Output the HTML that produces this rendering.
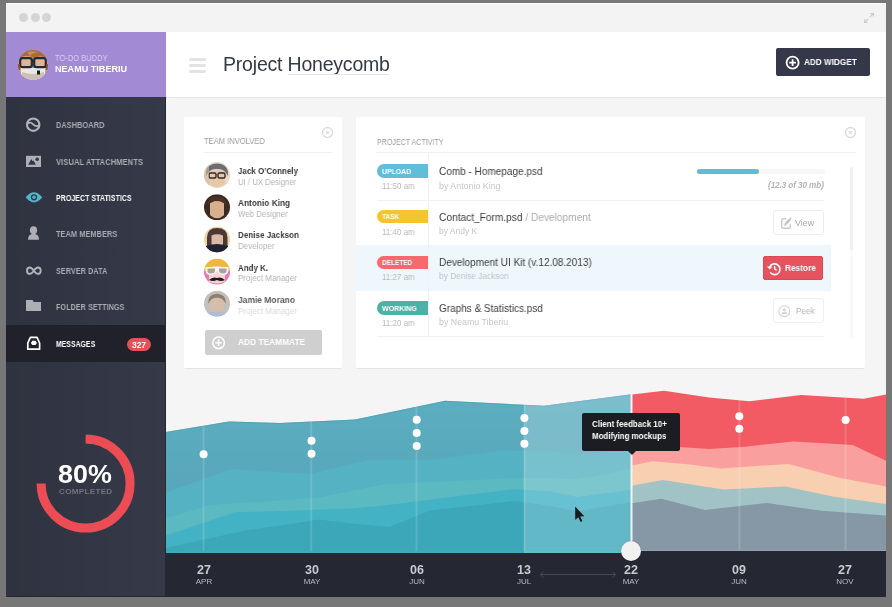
<!DOCTYPE html>
<html><head><meta charset="utf-8">
<style>
*{margin:0;padding:0;box-sizing:border-box}
html,body{width:892px;height:607px;overflow:hidden;background:#777777;font-family:"Liberation Sans",sans-serif}
.a{position:absolute}
.t{position:absolute;white-space:nowrap;line-height:1;will-change:transform}
#win{position:absolute;left:6px;top:3px;width:880px;height:594px;background:#f5f5f5;overflow:hidden}
</style></head><body>
<div id="win"></div>
<!-- titlebar -->
<div class="a" style="left:6px;top:3px;width:880px;height:29px;background:#f3f3f3;border-top:1px solid #fdfdfd"></div>
<div class="a" style="left:19px;top:13px;width:9px;height:9px;border-radius:50%;background:#d5d5d5"></div>
<div class="a" style="left:31px;top:13px;width:9px;height:9px;border-radius:50%;background:#d5d5d5"></div>
<div class="a" style="left:42px;top:13px;width:9px;height:9px;border-radius:50%;background:#d5d5d5"></div>
<svg class="a" style="left:860px;top:9px" width="18" height="18" viewBox="860 9 18 18" fill="none" stroke="#cbcbcb" stroke-width="1.2">
<path d="M864.8,22.2 L868.2,18.8 M869.8,17.2 L873.2,13.8"/><path d="M864.6,19.4 V22.4 H867.6 M870.4,13.6 H873.4 V16.6"/></svg>

<!-- sidebar -->
<div class="a" style="left:6px;top:32px;width:160px;height:65px;background:#a38ad4"></div>
<div class="a" style="left:6px;top:97px;width:160px;height:500px;background:linear-gradient(90deg,#2f323f,#363948)"></div>
<div class="a" style="left:6px;top:325px;width:160px;height:37px;background:#20212b"></div>
<div class="a" style="left:165px;top:97px;width:1px;height:500px;background:#262833"></div>


<!-- sidebar content -->
<svg class="a" style="left:18px;top:50px" width="30" height="30" viewBox="0 0 30 30">
<defs><clipPath id="av0"><circle cx="15" cy="15" r="15"/></clipPath></defs>
<g clip-path="url(#av0)">
<rect width="30" height="30" fill="#d89a70"/>
<path d="M0,0 H30 V9 Q24,4 16,8 Q8,3 0,9Z" fill="#a86a3e"/>
<path d="M9,2 Q15,0 21,3 Q15,2 12,6Z" fill="#c98d5c"/>
<path d="M3,18 H27 L27,30 H3Z" fill="#ece8e0"/>
<path d="M4,22 Q15,26 26,22 L26,30 H4Z" fill="#c9c2b8"/>
<rect x="2.2" y="8.2" width="11.6" height="9" rx="2.2" fill="#e3b393" stroke="#1c2e3c" stroke-width="2.2"/>
<rect x="16.2" y="8.2" width="11.6" height="9" rx="2.2" fill="#e3b393" stroke="#1c2e3c" stroke-width="2.2"/>
<path d="M13.5,11 H16.5" stroke="#1c2e3c" stroke-width="2.2"/>
<rect x="19" y="20.5" width="3" height="4" fill="#1a1a1a"/>
<path d="M0,14 H2 V20 H0Z M28,14 H30 V20 H28Z" fill="#8a4e2a"/>
</g></svg>
<div class="t" style="left:55.30px;top:54.15px;font-size:8.8px;color:#d9cdf1;transform:scaleX(0.856);transform-origin:0 0">TO-DO BUDDY</div>
<div class="t" style="left:55.30px;top:65.45px;font-size:8.8px;font-weight:bold;color:#ffffff;transform:scaleX(1.031);transform-origin:0 0">NEAMU TIBERIU</div>

<svg class="a" style="left:0;top:0" width="166" height="362" viewBox="0 0 166 362">
<g fill="none" stroke="#b2b3b9" stroke-width="2.1">
<circle cx="33.2" cy="124.7" r="6.2"/>
<path d="M27,123.9 C29.3,122 31.3,122.3 33.2,124.4 C35.1,126.5 37.1,126.8 39.4,125" stroke-width="1.8"/>
</g>
<rect x="26" y="155.8" width="15" height="11.2" fill="#aeafb5"/>
<path d="M28.2,164.7 L31.2,159 L32.6,161.2 L33.6,160.6 L35.8,164.7Z" fill="#333644"/>
<circle cx="37.2" cy="159.3" r="1.8" fill="#333644"/>
<path d="M25.6,197.3 Q34,187 42.3,197.3 Q34,207.6 25.6,197.3Z" fill="#4db8cb"/>
<circle cx="34" cy="197.3" r="3.1" fill="#333644"/>
<circle cx="34" cy="197.3" r="1.8" fill="#4db8cb"/>
<ellipse cx="33.5" cy="230.3" rx="3.6" ry="4.1" fill="#aeafb5"/>
<path d="M28,239.8 Q28,234.6 31.8,233.9 H35.2 Q39,234.6 39,239.8Z" fill="#aeafb5"/>
<path fill="none" stroke="#b2b3b9" stroke-width="1.9" d="M33.85,270.7 C32,268.1 30.8,267.5 29.9,267.5 C28,267.5 27,268.9 27,270.7 C27,272.5 28,273.9 29.9,273.9 C30.8,273.9 32,273.3 33.85,270.7 C35.7,268.1 36.9,267.5 37.8,267.5 C39.7,267.5 40.7,268.9 40.7,270.7 C40.7,272.5 39.7,273.9 37.8,273.9 C36.9,273.9 35.7,273.3 33.85,270.7Z"/>
<path d="M26,300 H32.5 L33.8,302 H41 V311 H26Z" fill="#aeafb5"/>
<path d="M30.4,337.4 H37 L39.6,343 V349.2 H27.8 V343Z" fill="none" stroke="#ffffff" stroke-width="1.7" stroke-linejoin="round"/>
<path d="M30.9,342.9 L32.2,340.7 H35.6 L36.9,342.9 L35.6,345.1 H32.2Z" fill="#ffffff"/>
</svg>
<div class="t" style="left:56px;top:120.6px;font-size:8.6px;font-weight:bold;color:#a9aab2;letter-spacing:0.1px;transform:scaleX(0.853);transform-origin:0 0">DASHBOARD</div>
<div class="t" style="left:56px;top:157.8px;font-size:8.6px;font-weight:bold;color:#a9aab2;letter-spacing:0.1px;transform:scaleX(0.876);transform-origin:0 0">VISUAL ATTACHMENTS</div>
<div class="t" style="left:56px;top:194.3px;font-size:8.6px;font-weight:bold;color:#ffffff;letter-spacing:0.1px;transform:scaleX(0.809);transform-origin:0 0">PROJECT STATISTICS</div>
<div class="t" style="left:56px;top:229.7px;font-size:8.6px;font-weight:bold;color:#a9aab2;letter-spacing:0.1px;transform:scaleX(0.853);transform-origin:0 0">TEAM MEMBERS</div>
<div class="t" style="left:56px;top:267.0px;font-size:8.6px;font-weight:bold;color:#a9aab2;letter-spacing:0.1px;transform:scaleX(0.838);transform-origin:0 0">SERVER DATA</div>
<div class="t" style="left:56px;top:303.4px;font-size:8.6px;font-weight:bold;color:#a9aab2;letter-spacing:0.1px;transform:scaleX(0.833);transform-origin:0 0">FOLDER SETTINGS</div>
<div class="t" style="left:56px;top:339.9px;font-size:8.6px;font-weight:bold;color:#ffffff;letter-spacing:0.1px;transform:scaleX(0.792);transform-origin:0 0">MESSAGES</div>
<div class="a" style="left:127px;top:338px;width:24px;height:13px;border-radius:7px;background:#e5505a"></div>
<div class="t" style="left:127px;top:340.5px;width:24px;text-align:center;font-size:8.5px;font-weight:bold;color:#fff">327</div>

<svg class="a" style="left:30px;top:428px" width="112" height="112" viewBox="30 428 112 112">
<path d="M85.6,439 A44.5,44.5 0 1 1 41.1,483.5" fill="none" stroke="#ec4d55" stroke-width="9"/>
</svg>
<div class="t" style="left:58.20px;top:461.63px;font-size:25.8px;font-weight:bold;color:#ffffff;transform:scaleX(1.042);transform-origin:0 0">80%</div>
<div class="t" style="left:58.50px;top:487.74px;font-size:8.1px;font-weight:bold;color:#717484;letter-spacing:0.3px;">COMPLETED</div>

<div class="a" style="left:6px;top:596px;width:160px;height:1px;background:#262833"></div>
<!-- header -->
<div class="a" style="left:166px;top:32px;width:720px;height:66px;background:#ffffff;border-bottom:1px solid #e6e6e6"></div>
<div class="a" style="left:189px;top:57.5px;width:17px;height:3px;border-radius:2px;background:#e3e3e3"></div>
<div class="a" style="left:189px;top:63.5px;width:17px;height:3px;border-radius:2px;background:#e3e3e3"></div>
<div class="a" style="left:189px;top:69.5px;width:17px;height:3px;border-radius:2px;background:#e3e3e3"></div>
<div class="t" style="left:223px;top:54.5px;font-size:19.5px;color:#343a45;letter-spacing:-0.2px">Project Honeycomb</div>
<div class="a" style="left:288px;top:73.5px;width:101px;height:1px;background:#e4e4e4"></div>
<div class="a" style="left:776px;top:48px;width:94px;height:28px;border-radius:2px;background:#353848"></div>
<svg class="a" style="left:785px;top:55px" width="16" height="16" viewBox="0 0 16 16"><circle cx="7.6" cy="7.7" r="6" fill="none" stroke="#fff" stroke-width="1.8"/><path d="M7.6,4.3 V11.1 M4.2,7.7 H11" stroke="#fff" stroke-width="1.8"/></svg>
<div class="t" style="left:804.40px;top:57.96px;font-size:8.7px;font-weight:bold;color:#fff;transform:scaleX(0.942);transform-origin:0 0">ADD WIDGET</div>

<!-- cards -->
<div class="a" style="left:184px;top:117px;width:158px;height:252px;background:#fff;border-bottom:1px solid #e4e4e4;border-radius:2px"></div>
<div class="a" style="left:356px;top:117px;width:509px;height:252px;background:#fff;border-bottom:1px solid #e4e4e4;border-radius:2px"></div>



<!-- team card content -->
<div class="t" style="left:204.10px;top:137.43px;font-size:9.0px;color:#9b9b9b;transform:scaleX(0.842);transform-origin:0 0">TEAM INVOLVED</div>
<div class="a" style="left:204px;top:152px;width:128px;height:1px;background:#efefef"></div>
<svg class="a" style="left:321px;top:126px" width="13" height="13" viewBox="0 0 13 13" fill="none" stroke="#dcdcdc" stroke-width="1.3"><circle cx="6.5" cy="6.5" r="5"/><path d="M4.9,4.9 L8.1,8.1 M8.1,4.9 L4.9,8.1" stroke-width="1.1"/></svg>
<svg class="a" style="left:204px;top:162px" width="26" height="160" viewBox="0 0 26 160">
<defs><clipPath id="c1"><circle cx="13" cy="13" r="13"/></clipPath></defs>
<g clip-path="url(#c1)">
<rect width="26" height="26" fill="#e9d9c4"/>
<path d="M2,14 Q1,2 13,1.5 Q25,2 24,14 Q20,6 13,7 Q6,6 2,14Z" fill="#6b6f73"/>
<path d="M5,10 Q13,6 21,10 L21,22 Q13,28 5,22Z" fill="#e8c6a8"/>
<rect x="5" y="11" width="7" height="5" rx="1.5" fill="none" stroke="#2b2b2b" stroke-width="1.4"/>
<rect x="14" y="11" width="7" height="5" rx="1.5" fill="none" stroke="#2b2b2b" stroke-width="1.4"/>
<rect x="0" y="0" width="5" height="26" fill="#c9b89c" opacity="0.6"/>
</g>
<g transform="translate(0,32.2)" clip-path="url(#c1)">
<rect width="26" height="26" fill="#3a2a22"/>
<path d="M6,9 Q13,4 20,9 L20,21 Q13,27 6,21Z" fill="#d9b08f"/>
<path d="M3,12 Q4,2 13,2 Q22,2 23,12 Q18,5 13,7 Q8,5 3,12Z" fill="#4a3324"/>
</g>
<g transform="translate(0,64.4)" clip-path="url(#c1)">
<rect width="26" height="26" fill="#ead6a8"/>
<path d="M3,26 V11 Q3,1.5 13,1.5 Q23.5,1.5 23.5,11 V26Z" fill="#4e3834"/>
<path d="M7.5,9 Q13,6.5 19,9 L19,18 Q13,23 7.5,18Z" fill="#dcb8a6"/>
<path d="M0,20 Q13,15 26,20 V26 H0Z" fill="#1f2233"/>
</g>
<g transform="translate(0,96.6)" clip-path="url(#c1)">
<rect width="26" height="26" fill="#f2b63a"/>
<rect x="0" y="12" width="26" height="14" fill="#e779b8"/>
<path d="M5,9 Q13,6 21,9 L21,23 Q13,27 5,23Z" fill="#f6d2d6"/>
<path d="M1.5,8.5 H24.5 V12 Q24,16.5 19.5,16.5 Q15,16.5 14,13 H12 Q11,16.5 6.5,16.5 Q2,16.5 1.5,12Z" fill="#f4f4f4"/>
<path d="M3.5,10 H11 V12.5 Q10.5,15 7,15 Q3.8,15 3.5,12.5Z M15,10 H22.5 V12.5 Q22.2,15 19,15 Q15.5,15 15,12.5Z" fill="#a9a39a"/>
<path d="M5,21.5 Q9,17.5 13,19.5 Q17,17.5 21,21.5 Q17,23.5 13,21.5 Q9,23.5 5,21.5Z" fill="#1e1a1a"/>
</g>
<g transform="translate(0,128.8)" clip-path="url(#c1)" opacity="0.85">
<rect width="26" height="26" fill="#b9b6b0"/>
<path d="M6,9 Q13,4 20,9 L20,20 Q13,26 6,20Z" fill="#cfb39b"/>
<path d="M4,13 Q4,3 13,3 Q22,3 22,13 Q18,6 13,7 Q8,6 4,13Z" fill="#7a6a5a"/>
<rect x="0" y="21" width="26" height="5" fill="#9fb3c8"/>
</g>
</svg>
<div class="t" style="left:238.20px;top:166.05px;font-size:9.6px;font-weight:bold;color:#3a3b40;transform:scaleX(0.833);transform-origin:0 0">Jack O&#8217;Connely</div>
<div class="t" style="left:238.20px;top:177.85px;font-size:8.8px;color:#b3b3b3;transform:scaleX(0.880);transform-origin:0 0">UI / UX Designer</div>
<div class="t" style="left:238.20px;top:198.25px;font-size:9.6px;font-weight:bold;color:#3a3b40;transform:scaleX(0.866);transform-origin:0 0">Antonio King</div>
<div class="t" style="left:238.20px;top:210.05px;font-size:8.8px;color:#b3b3b3;transform:scaleX(0.896);transform-origin:0 0">Web Designer</div>
<div class="t" style="left:238.20px;top:230.45px;font-size:9.6px;font-weight:bold;color:#3a3b40;transform:scaleX(0.840);transform-origin:0 0">Denise Jackson</div>
<div class="t" style="left:238.20px;top:242.25px;font-size:8.8px;color:#b3b3b3;transform:scaleX(0.907);transform-origin:0 0">Developer</div>
<div class="t" style="left:238.20px;top:262.65px;font-size:9.6px;font-weight:bold;color:#3a3b40;transform:scaleX(0.827);transform-origin:0 0">Andy K.</div>
<div class="t" style="left:238.20px;top:274.45px;font-size:8.8px;color:#b3b3b3;transform:scaleX(0.914);transform-origin:0 0">Project Manager</div>
<div class="t" style="left:238.20px;top:294.85px;font-size:9.6px;font-weight:bold;color:#5a5b60;transform:scaleX(0.883);transform-origin:0 0">Jamie Morano</div>
<div class="t" style="left:238.20px;top:306.65px;font-size:8.8px;color:#dadada;transform:scaleX(0.914);transform-origin:0 0">Project Manager</div>
<div class="a" style="left:205px;top:330px;width:117px;height:25px;border-radius:2px;background:#cfcfcf"></div>
<svg class="a" style="left:211px;top:335px" width="15" height="15" viewBox="0 0 15 15"><circle cx="7.6" cy="7.8" r="5.8" fill="none" stroke="#fff" stroke-width="1.6"/><path d="M7.6,4.6 V11 M4.4,7.8 H10.8" stroke="#fff" stroke-width="1.6"/></svg>
<div class="t" style="left:238.00px;top:338.45px;font-size:8.8px;font-weight:bold;color:#ffffff;transform:scaleX(0.950);transform-origin:0 0">ADD TEAMMATE</div>


<!-- activity card content -->
<div class="t" style="left:376.60px;top:138.26px;font-size:8.7px;color:#9b9b9b;transform:scaleX(0.817);transform-origin:0 0">PROJECT ACTIVITY</div>
<div class="a" style="left:376px;top:152px;width:480px;height:1px;background:#efefef"></div>
<svg class="a" style="left:843.5px;top:126px" width="13" height="13" viewBox="0 0 13 13" fill="none" stroke="#dcdcdc" stroke-width="1.3"><circle cx="6.5" cy="6.5" r="5"/><path d="M4.9,4.9 L8.1,8.1 M8.1,4.9 L4.9,8.1" stroke-width="1.1"/></svg>
<div class="a" style="left:356px;top:245px;width:475px;height:46px;background:#eef8fc"></div>
<div class="a" style="left:377px;top:200px;width:447px;height:1px;background:#f1f1f1"></div>
<div class="a" style="left:377px;top:336px;width:447px;height:1px;background:#f1f1f1"></div>
<div class="a" style="left:428px;top:153px;width:1px;height:183px;background:#f1f1f1"></div>
<div class="a" style="left:850px;top:167px;width:3px;height:172px;border-radius:2px;background:#f9f9f9"></div>
<div class="a" style="left:850px;top:167px;width:3px;height:83px;border-radius:2px;background:#efefef"></div>

<div class="a" style="left:376.5px;top:164.3px;width:51.5px;height:14px;border-radius:7px 0 0 7px;background:#62bed8"></div>
<div class="t" style="left:381.80px;top:168.06px;font-size:7.2px;font-weight:bold;color:#fff;transform:scaleX(0.957);transform-origin:0 0">UPLOAD</div>
<div class="t" style="left:382.10px;top:181.90px;font-size:8.4px;color:#b8b8b8;transform:scaleX(0.951);transform-origin:0 0">11:50 am</div>
<div class="t" style="left:438.60px;top:167.16px;font-size:10.3px;color:#3b3c44;transform:scaleX(0.973);transform-origin:0 0">Comb - Homepage.psd</div>
<div class="t" style="left:438.70px;top:181.90px;font-size:8.4px;color:#c6c6c6;transform:scaleX(1.057);transform-origin:0 0">by Antonio King</div>
<div class="a" style="left:697px;top:169.2px;width:128px;height:5px;border-radius:3px;background:#f6f6f6"></div>
<div class="a" style="left:697px;top:169.2px;width:62px;height:5px;border-radius:3px;background:#5dbcd6"></div>
<div class="t" style="left:768px;top:181.5px;font-size:8.2px;font-style:italic;font-weight:bold;color:#b4b4b4;letter-spacing:-0.1px">(12.3 of 30 mb)</div>

<div class="a" style="left:376.5px;top:209.9px;width:51.5px;height:13.6px;border-radius:7px 0 0 7px;background:#f5c531"></div>
<div class="t" style="left:381.80px;top:213.36px;font-size:7.2px;font-weight:bold;color:#fff;transform:scaleX(0.902);transform-origin:0 0">TASK</div>
<div class="t" style="left:382.10px;top:227.80px;font-size:8.4px;color:#b8b8b8;transform:scaleX(0.951);transform-origin:0 0">11:40 am</div>
<div class="t" style="left:438.70px;top:212.66px;font-size:10.3px;color:#3b3c44;transform:scaleX(0.986);transform-origin:0 0">Contact_Form.psd <span style="color:#a9a9a9">/ Development</span></div>
<div class="t" style="left:438.70px;top:226.70px;font-size:8.4px;color:#c6c6c6;transform:scaleX(1.015);transform-origin:0 0">by Andy K</div>
<div class="a" style="left:772.5px;top:210.3px;width:51px;height:25.2px;border-radius:3px;border:1px solid #ececec;background:#fff"></div>
<svg class="a" style="left:780px;top:216px" width="13" height="14" viewBox="0 0 13 14" fill="none" stroke="#cacaca" stroke-width="1.4"><path d="M6.2,2.7 H3.2 Q1.7,2.7 1.7,4.2 V10.8 Q1.7,12.3 3.2,12.3 H8.8 Q10.3,12.3 10.3,10.8 V8.2"/><path d="M4.3,9.8 Q4.6,7 7.5,4.2 L11.2,1.4 Q11.4,3.3 8.8,6.4 Q6.5,9 4.3,9.8Z" fill="#c4c4c4" stroke-width="0.6"/></svg>
<div class="t" style="left:795.20px;top:218.79px;font-size:8.5px;color:#aaaaaa;transform:scaleX(1.044);transform-origin:0 0">View</div>

<div class="a" style="left:376.5px;top:255.6px;width:51.5px;height:13.8px;border-radius:7px 0 0 7px;background:#f7696d"></div>
<div class="t" style="left:381.80px;top:258.96px;font-size:7.2px;font-weight:bold;color:#fff;transform:scaleX(0.899);transform-origin:0 0">DELETED</div>
<div class="t" style="left:382.10px;top:273.30px;font-size:8.4px;color:#b8b8b8;transform:scaleX(0.951);transform-origin:0 0">11:27 am</div>
<div class="t" style="left:438.70px;top:258.36px;font-size:10.3px;color:#3b3c44;transform:scaleX(0.972);transform-origin:0 0">Development UI Kit (v.12.08.2013)</div>
<div class="t" style="left:438.70px;top:272.30px;font-size:8.4px;color:#bfc4c6;transform:scaleX(0.991);transform-origin:0 0">by Denise Jackson</div>
<div class="a" style="left:763px;top:256.3px;width:60px;height:24px;border-radius:2px;background:#e5535e;border:1px solid #df4754"></div>
<svg class="a" style="left:766px;top:261px" width="16" height="16" viewBox="0 0 16 16" fill="none" stroke="#fff" stroke-width="1.6"><path d="M3.6,6.2 A5.4,5.4 0 1 1 4.2,11.4"/><path d="M1,5.6 L3.8,8.6 L6.4,5.6Z" fill="#fff" stroke="none"/><path d="M8.6,5 V7.9 L10.6,9.2" stroke-width="1.4"/></svg>
<div class="t" style="left:785.00px;top:264.16px;font-size:8.7px;font-weight:bold;color:#fff;transform:scaleX(0.954);transform-origin:0 0">Restore</div>

<div class="a" style="left:376.5px;top:301px;width:51.5px;height:13.6px;border-radius:7px 0 0 7px;background:#4bb3a6"></div>
<div class="t" style="left:381.80px;top:304.56px;font-size:7.2px;font-weight:bold;color:#fff;transform:scaleX(0.978);transform-origin:0 0">WORKING</div>
<div class="t" style="left:382.10px;top:318.90px;font-size:8.4px;color:#b8b8b8;transform:scaleX(0.951);transform-origin:0 0">11:20 am</div>
<div class="t" style="left:438.70px;top:303.96px;font-size:10.3px;color:#3b3c44;transform:scaleX(0.970);transform-origin:0 0">Graphs &amp; Statistics.psd</div>
<div class="t" style="left:438.70px;top:317.90px;font-size:8.4px;color:#c6c6c6;transform:scaleX(1.053);transform-origin:0 0">by Neamu Tiberiu</div>
<div class="a" style="left:772.5px;top:298.3px;width:51px;height:24.4px;border-radius:3px;border:1px solid #efefef;background:#fff"></div>
<svg class="a" style="left:777px;top:303.5px" width="15" height="15" viewBox="0 0 15 15"><circle cx="7.3" cy="7.2" r="5.4" fill="none" stroke="#d6d6d6" stroke-width="1.2"/><circle cx="7.3" cy="5.8" r="1.6" fill="#d6d6d6"/><path d="M4.6,10 Q4.6,7.8 7.3,7.8 Q10,7.8 10,10Z" fill="#d6d6d6"/></svg>
<div class="t" style="left:795.80px;top:306.50px;font-size:8.4px;color:#b5b5b5;transform:scaleX(0.971);transform-origin:0 0">Peek</div>

<!-- chart -->
<svg class="a" style="left:166px;top:380px" width="720" height="172" viewBox="166 380 720 172">
<defs>
<linearGradient id="g1" x1="0" y1="0" x2="0" y2="1"><stop offset="0" stop-color="#5caec1"/><stop offset="1" stop-color="#55a2b5"/></linearGradient>
</defs>
<polygon fill="url(#g1)" points="166,431.9 229,421.5 280,423 355,419.5 445,400.8 544,405.8 632,394.2 632,552 166,552"/>
<polyline fill="none" stroke="#4f9db0" stroke-width="1" stroke-opacity="0.6" points="166,432.4 229,422 280,423.5 355,420 445,401.3 544,406.3 632,394.7"/>
<polygon fill="#55b2c3" points="166,492.5 231,469 284,472.5 311,473.5 369,460 436,459.5 501,450.6 550,451.2 576,454.3 632,450.6 632,552 166,552"/>
<polygon fill="#5bb9c1" points="166,518.3 210,505 284,500.2 320,497.2 386,484 516,478 550,478 576,479.4 632,469.1 632,552 166,552"/>
<polygon fill="#43b2c5" points="166,535.5 235,512.2 284,511.1 350,508.5 380,506 513,489.2 550,491.3 577,496.9 632,489.7 632,552 166,552"/>
<polygon fill="#3ba7b9" points="166,548 244,530.8 284,525 319,519.5 350,523.3 389,527 430,510.6 515,501 550,506 578,511.3 632,502 632,552 166,552"/>
<polygon fill="#ffffff" fill-opacity="0.2" points="524,404.8 544,405.8 632,394.2 632,552 524,552"/>
<polygon fill="#f25b64" points="632,394.5 664,390.7 709,397.4 749.5,401.3 801,395 863.7,398.8 886,394.4 886,552 632,552"/>
<polygon fill="#f9a09f" points="632,448.1 652.5,445.2 709,449 745,446.7 793.3,441.4 852.8,445.1 886,460.8 886,552 632,552"/>
<polygon fill="#f8cfb1" points="632,465.5 652.5,461.2 690,464.5 720.7,468.4 788.6,463.9 840.2,478 886,486.4 886,552 632,552"/>
<polygon fill="#a1c3c5" points="632,485.8 662.7,480 690,484.2 723.6,489.6 785.5,486.4 834,496.8 886,504 886,552 632,552"/>
<polygon fill="#8697a5" points="632,503.2 661.2,498.8 704.7,509.9 766.7,503 821.5,510.8 886,515.5 886,552 632,552"/>
<g stroke="#ffffff" stroke-opacity="0.14" stroke-width="2">
<line x1="203.6" y1="420" x2="203.6" y2="552"/>
<line x1="311.2" y1="418" x2="311.2" y2="552"/>
<line x1="416.5" y1="405" x2="416.5" y2="552"/>
<line x1="524.5" y1="404" x2="524.5" y2="552"/>
<line x1="739.5" y1="400" x2="739.5" y2="552"/>
<line x1="845.5" y1="398" x2="845.5" y2="552"/>
</g>
<line x1="631.5" y1="394" x2="631.5" y2="552" stroke="#f2f2f2" stroke-width="2"/>
<g fill="#ffffff">
<circle cx="203.6" cy="454.3" r="4"/>
<circle cx="311.5" cy="440.8" r="4"/><circle cx="311.5" cy="453.7" r="4"/>
<circle cx="416.7" cy="419.7" r="4"/><circle cx="416.7" cy="432.9" r="4"/><circle cx="416.7" cy="445.9" r="4"/>
<circle cx="524.4" cy="418" r="4"/><circle cx="524.4" cy="431" r="4"/><circle cx="524.4" cy="443.8" r="4"/>
<circle cx="739.3" cy="416.3" r="4"/><circle cx="739.3" cy="428.8" r="4"/>
<circle cx="845.6" cy="420" r="4"/>
</g>
<path d="M575.2,506.6 L575.2,520 L578.3,517.2 L580.6,522 L582.4,521.1 L580.2,516.5 L584.3,516.3 Z" fill="#1a1b20"/>
</svg>
<div class="a" style="left:582px;top:413px;width:98px;height:38px;background:#1c1d23;border-radius:2px"></div>
<div class="a" style="left:627px;top:450px;width:0;height:0;border-left:5px solid transparent;border-right:5px solid transparent;border-top:5px solid #1c1d23"></div>
<div class="t" style="left:592.20px;top:420.34px;font-size:8.9px;font-weight:bold;color:#fff;transform:scaleX(0.901);transform-origin:0 0">Client feedback 10+</div>
<div class="t" style="left:592.20px;top:431.84px;font-size:8.9px;font-weight:bold;color:#fff;transform:scaleX(0.892);transform-origin:0 0">Modifying mockups</div>

<!-- axis -->
<div class="a" style="left:166px;top:551px;width:720px;height:46px;background:#252733"></div>
<div class="a" style="left:166px;top:551px;width:358px;height:2px;background:#3ea9bb"></div>
<div class="a" style="left:524px;top:551px;width:107px;height:2px;background:#62bccb"></div>
<div class="a" style="left:632px;top:550px;width:254px;height:1px;background:#93a4b1"></div>
<div class="a" style="left:621.2px;top:541px;width:20px;height:20px;border-radius:50%;background:#f1f1f1;box-shadow:0 0 1px rgba(0,0,0,0.4)"></div>
<div class="t" style="left:184px;top:564px;width:40px;text-align:center;font-size:12.5px;font-weight:bold;color:#c9cace">27</div>
<div class="t" style="left:184px;top:578px;width:40px;text-align:center;font-size:8px;color:#b9bac0">APR</div>
<div class="t" style="left:292px;top:564px;width:40px;text-align:center;font-size:12.5px;font-weight:bold;color:#c9cace">30</div>
<div class="t" style="left:292px;top:578px;width:40px;text-align:center;font-size:8px;color:#b9bac0">MAY</div>
<div class="t" style="left:397px;top:564px;width:40px;text-align:center;font-size:12.5px;font-weight:bold;color:#c9cace">06</div>
<div class="t" style="left:397px;top:578px;width:40px;text-align:center;font-size:8px;color:#b9bac0">JUN</div>
<div class="t" style="left:504px;top:564px;width:40px;text-align:center;font-size:12.5px;font-weight:bold;color:#c9cace">13</div>
<div class="t" style="left:504px;top:578px;width:40px;text-align:center;font-size:8px;color:#b9bac0">JUL</div>
<div class="t" style="left:611px;top:564px;width:40px;text-align:center;font-size:12.5px;font-weight:bold;color:#c9cace">22</div>
<div class="t" style="left:611px;top:578px;width:40px;text-align:center;font-size:8px;color:#b9bac0">MAY</div>
<div class="t" style="left:719px;top:564px;width:40px;text-align:center;font-size:12.5px;font-weight:bold;color:#c9cace">09</div>
<div class="t" style="left:719px;top:578px;width:40px;text-align:center;font-size:8px;color:#b9bac0">JUN</div>
<div class="t" style="left:825px;top:564px;width:40px;text-align:center;font-size:12.5px;font-weight:bold;color:#c9cace">27</div>
<div class="t" style="left:825px;top:578px;width:40px;text-align:center;font-size:8px;color:#b9bac0">NOV</div>
<svg class="a" style="left:538px;top:570px" width="80" height="9" viewBox="0 0 80 9" fill="none" stroke="#444757" stroke-width="1">
<path d="M2,4.5 H78 M5.5,1.5 L2.5,4.5 L5.5,7.5 M74.5,1.5 L77.5,4.5 L74.5,7.5"/></svg>
</body></html>
